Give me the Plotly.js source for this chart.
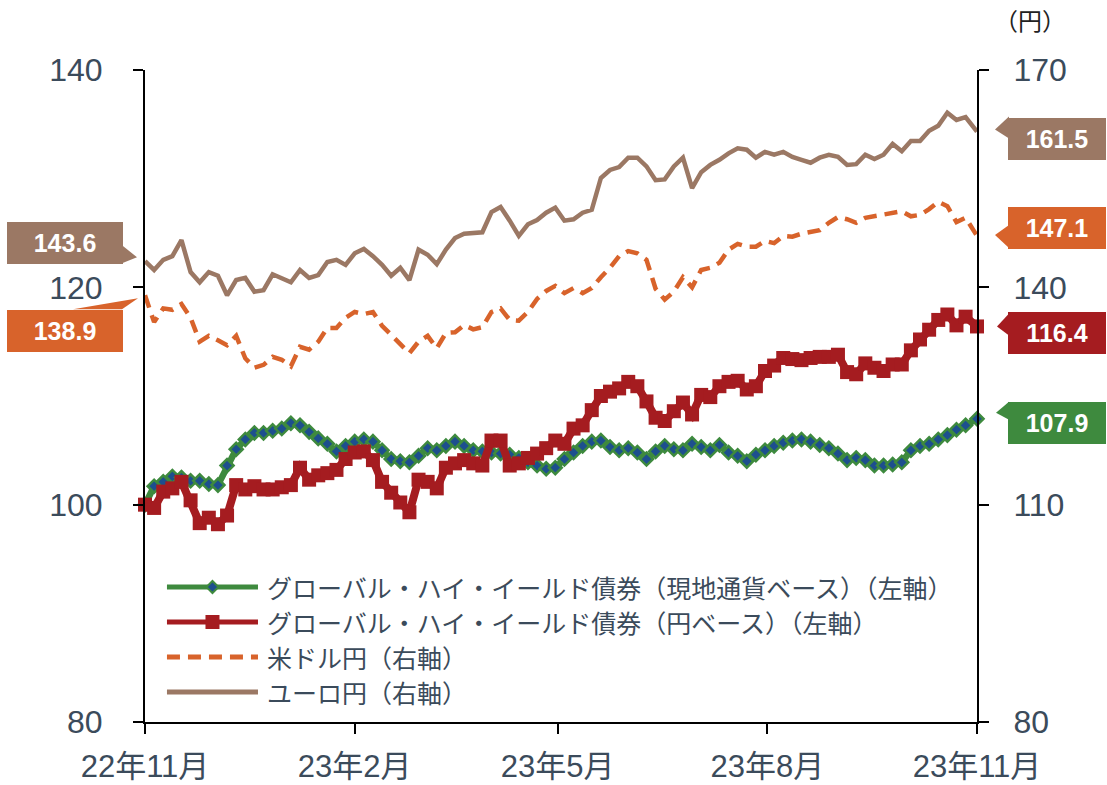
<!DOCTYPE html>
<html>
<head>
<meta charset="utf-8">
<script src="https://cdn.plot.ly/plotly-3.0.1.min.js"></script>
<style>
  html, body { margin: 0; padding: 0; background: #fff; }
  #chart { width: 1107px; height: 785px; }
</style>
</head>
<body>
<div id="chart"></div>
<script>
// ---- data ----
const dates = [
  '2022-11-01','2022-11-05','2022-11-09','2022-11-13','2022-11-17','2022-11-21','2022-11-25','2022-11-29',
  '2022-12-03','2022-12-07','2022-12-11','2022-12-15','2022-12-19','2022-12-23','2022-12-27','2022-12-31',
  '2023-01-04','2023-01-08','2023-01-12','2023-01-16','2023-01-20','2023-01-24','2023-01-28',
  '2023-02-01','2023-02-05','2023-02-09','2023-02-13','2023-02-17','2023-02-21','2023-02-25',
  '2023-03-01','2023-03-05','2023-03-09','2023-03-13','2023-03-17','2023-03-21','2023-03-25','2023-03-29',
  '2023-04-02','2023-04-06','2023-04-10','2023-04-14','2023-04-18','2023-04-22','2023-04-26','2023-04-30',
  '2023-05-04','2023-05-08','2023-05-12','2023-05-16','2023-05-20','2023-05-24','2023-05-28',
  '2023-06-01','2023-06-05','2023-06-09','2023-06-13','2023-06-17','2023-06-21','2023-06-25','2023-06-29',
  '2023-07-03','2023-07-07','2023-07-11','2023-07-15','2023-07-19','2023-07-23','2023-07-27','2023-07-31',
  '2023-08-04','2023-08-08','2023-08-12','2023-08-16','2023-08-20','2023-08-24','2023-08-28',
  '2023-09-01','2023-09-05','2023-09-09','2023-09-13','2023-09-17','2023-09-21','2023-09-25','2023-09-29',
  '2023-10-03','2023-10-07','2023-10-11','2023-10-15','2023-10-19','2023-10-23','2023-10-27',
  '2023-11-01'
];

// グローバル・ハイ・イールド債券（現地通貨ベース）（左軸）
const hyLocal = [
  100.0,101.7,102.1,102.6,102.5,102.2,102.2,101.9,
  101.8,103.6,105.1,106.0,106.6,106.6,106.8,107.0,
  107.5,107.3,106.7,106.1,105.6,104.9,105.4,
  105.8,106.0,105.8,105.0,104.2,104.0,103.9,
  104.5,105.2,105.0,105.4,105.8,105.4,105.0,104.9,
  104.8,104.7,104.6,104.3,103.9,103.6,103.3,103.4,
  104.2,104.8,105.4,105.8,105.9,105.3,105.0,
  105.2,104.8,104.2,104.9,105.4,105.1,105.0,105.6,
  105.3,105.0,105.5,104.8,104.5,104.0,104.6,105.0,
  105.4,105.7,105.9,106.0,105.8,105.5,105.2,
  104.7,104.1,104.3,104.1,103.6,103.6,103.7,103.9,
  105.0,105.4,105.6,106.0,106.4,106.9,107.3,
  107.9
];

// グローバル・ハイ・イールド債券（円ベース）（左軸）
const hyYen = [
  100.0,99.7,101.2,101.5,102.1,100.4,98.3,98.8,
  98.2,99.0,101.8,101.4,101.7,101.4,101.4,101.6,
  101.8,103.4,102.3,102.7,102.9,103.2,104.2,
  104.8,104.9,104.1,102.1,101.1,100.2,99.3,
  102.3,102.1,101.5,103.4,103.8,104.1,103.8,103.6,
  105.9,105.9,103.6,103.8,104.3,104.7,105.2,105.9,
  105.6,107.0,107.3,108.7,110.0,110.4,110.7,
  111.3,110.9,109.5,108.0,107.7,108.6,109.4,108.3,
  110.1,109.9,110.9,111.3,111.4,110.6,110.9,112.3,
  112.8,113.5,113.4,113.3,113.5,113.6,113.6,
  113.8,112.2,112.0,113.0,112.6,112.3,112.9,112.9,
  114.2,115.2,116.1,117.0,117.5,116.5,117.3,
  116.4
];

// 米ドル円（右軸）
const usdJpy = [
  138.9,135.2,137.1,136.9,137.7,135.8,132.5,133.3,
  132.7,132.0,133.3,130.2,128.9,129.3,130.4,130.0,
  129.1,131.8,131.4,132.5,134.4,134.4,135.8,
  136.6,136.3,136.6,134.7,133.4,132.2,130.9,
  132.5,133.3,131.6,133.7,133.8,134.8,134.2,134.5,
  136.6,137.1,135.5,135.4,136.6,138.4,139.5,140.2,
  139.2,139.9,139.2,139.9,141.4,142.7,144.3,
  145.0,144.7,143.8,139.8,138.3,139.4,141.4,140.0,
  142.4,142.7,143.4,145.2,146.0,145.6,145.6,146.4,
  146.1,147.1,147.0,147.4,147.6,147.9,148.9,
  149.7,149.4,148.9,149.6,149.8,150.0,150.3,150.5,
  149.8,150.0,150.8,151.8,151.2,149.0,149.6,
  147.1
];

// ユーロ円（右軸）
const eurJpy = [
  143.6,142.4,143.8,144.3,146.5,142.1,140.7,142.1,
  141.6,138.9,141.0,141.3,139.4,139.6,141.8,141.2,
  140.7,142.4,141.3,141.7,143.5,143.8,143.1,
  144.7,145.3,144.3,143.1,141.6,142.7,141.0,
  145.2,144.5,143.2,145.2,146.8,147.4,147.5,147.6,
  150.4,151.1,149.2,147.1,148.7,149.3,150.3,151.0,
  149.2,149.4,150.3,150.7,155.1,156.2,156.6,
  157.9,157.9,156.7,154.8,154.9,156.7,157.9,153.7,
  155.9,156.9,157.6,158.5,159.2,159.0,157.9,158.7,
  158.3,158.7,158.0,157.6,157.2,157.9,158.3,
  158.0,156.9,157.0,158.3,157.7,158.3,159.8,158.8,
  160.2,160.2,161.6,162.3,164.1,163.1,163.5,
  161.5
];

const seriesNames = [
  'グローバル・ハイ・イールド債券（現地通貨ベース）（左軸）',
  'グローバル・ハイ・イールド債券（円ベース）（左軸）',
  '米ドル円（右軸）',
  'ユーロ円（右軸）'
];

const xTickVals = ['2022-11-01','2023-02-01','2023-05-01','2023-08-01','2023-11-01'];
const xTickText = ['22年11月','23年2月','23年5月','23年8月','23年11月'];
const yLeftTicks = [80, 100, 120, 140];
const yRightTicks = [80, 110, 140, 170];

// ---- styles ----
const cGreen = '#3e8a3e', cBlue = '#1d4f8e', cRed = '#a51c20', cOrange = '#d8632b', cBrown = '#9b7864';
const tickColor = '#3b4b5b';
const baseFont = 'Arial, "Liberation Sans", "Noto Sans CJK JP", sans-serif';
const jpFont = '"Noto Sans CJK JP", "Noto Sans", sans-serif';

const traces = [
  { x: dates, y: hyLocal, type: 'scatter', mode: 'lines+markers', name: seriesNames[0], yaxis: 'y',
    line: { color: cGreen, width: 6.5 }, cliponaxis: false,
    marker: { symbol: 'diamond', size: 10, color: cBlue, line: { color: cGreen, width: 2.5 } } },
  { x: dates, y: hyYen, type: 'scatter', mode: 'lines+markers', name: seriesNames[1], yaxis: 'y',
    line: { color: cRed, width: 8 }, cliponaxis: false,
    marker: { symbol: 'square', size: 14, color: cRed } },
  { x: dates, y: usdJpy, type: 'scatter', mode: 'lines', name: seriesNames[2], yaxis: 'y2',
    line: { color: cOrange, width: 4.5, dash: '13px,8px' }, cliponaxis: false },
  { x: dates, y: eurJpy, type: 'scatter', mode: 'lines', name: seriesNames[3], yaxis: 'y2',
    line: { color: cBrown, width: 4.5 }, cliponaxis: false }
];

// ---- callout labels ----
const last = a => a[a.length - 1];
function callout(val, yref, side, color, yshift, tri) {
  const ann = {
    text: '<b>' + val.toFixed(1) + '</b>', xref: 'paper', yref: yref,
    x: side === 'right' ? 1 : 0, y: val,
    xanchor: side === 'right' ? 'left' : 'right', yanchor: 'middle',
    xshift: side === 'right' ? 31 : -22, yshift: yshift,
    showarrow: false, bgcolor: color, borderwidth: 0, borderpad: 0,
    width: side === 'right' ? 98 : 116, height: 42,
    font: { family: 'Arial, "Liberation Sans", sans-serif', size: 25, color: '#ffffff' }
  };
  const shp = {
    type: 'path', xref: 'paper', yref: yref, xsizemode: 'pixel', ysizemode: 'pixel',
    xanchor: side === 'right' ? 1 : 0, yanchor: val, path: tri,
    fillcolor: color, line: { width: 0 }, layer: 'above'
  };
  return [ann, shp];
}

const callouts = [
  callout(last(eurJpy), 'y2', 'right', cBrown, -7, 'M32,15 L18,2 L32,-7 Z'),
  callout(last(usdJpy), 'y2', 'right', cOrange, 8, 'M32,11 L18,1 L32,-12 Z'),
  callout(last(hyYen), 'y', 'right', cRed, -7, 'M32,13 L20,0 L32,-9 Z'),
  callout(last(hyLocal), 'y', 'right', cGreen, -4, 'M32,17 L19,6 L32,-1 Z'),
  callout(eurJpy[0], 'y2', 'left', cBrown, 18, 'M-23,16 L-8,4 L-23,-2 Z'),
  callout(usdJpy[0], 'y2', 'left', cOrange, -36, 'M-72,-14 L-7,-3 L-23,-14 Z')
];

const annotations = callouts.map(c => c[0]);
const shapes = callouts.map(c => c[1]);

// ---- custom legend ----
const legRows = [0.2071, 0.1534, 0.0997, 0.0460];
const legX0 = 0.0264, legX1 = 0.1358, legXm = 0.0811, legTextX = 0.1442;
const legStyles = [
  { color: cGreen, width: 5, dash: 'solid' },
  { color: cRed, width: 5, dash: 'solid' },
  { color: cOrange, width: 5, dash: '13px,8px' },
  { color: cBrown, width: 5, dash: 'solid' }
];
legRows.forEach((ry, i) => {
  shapes.push({ type: 'line', xref: 'paper', yref: 'paper', x0: legX0, x1: legX1, y0: ry, y1: ry,
    line: legStyles[i], layer: 'above' });
  annotations.push({ text: seriesNames[i], xref: 'paper', yref: 'paper', x: legTextX, y: ry,
    xanchor: 'left', yanchor: 'middle', showarrow: false,
    font: { family: jpFont, size: 25, color: tickColor } });
});
shapes.push({ type: 'path', xref: 'paper', yref: 'paper', xsizemode: 'pixel', ysizemode: 'pixel',
  xanchor: legXm, yanchor: legRows[0], path: 'M0,6 L6,0 L0,-6 L-6,0 Z',
  fillcolor: cBlue, line: { color: cGreen, width: 2 }, layer: 'above' });
shapes.push({ type: 'path', xref: 'paper', yref: 'paper', xsizemode: 'pixel', ysizemode: 'pixel',
  xanchor: legXm, yanchor: legRows[1], path: 'M-7,-7 L7,-7 L7,7 L-7,7 Z',
  fillcolor: cRed, line: { width: 0 }, layer: 'above' });

// unit label
annotations.push({ text: '（円）', xref: 'paper', yref: 'paper', x: 1.0637, y: 1.078,
  xanchor: 'center', yanchor: 'middle', showarrow: false,
  font: { family: jpFont, size: 24, color: '#222222' } });

const axisCommon = {
  showgrid: false, zeroline: false, showline: true, linecolor: '#000000', linewidth: 2,
  ticks: 'outside', ticklen: 10, tickwidth: 2, tickcolor: '#000000',
  tickfont: { family: baseFont, size: 32, color: tickColor }
};

const layout = {
  width: 1107, height: 785,
  margin: { l: 145, r: 130, t: 70, b: 63, pad: 0 },
  paper_bgcolor: '#ffffff', plot_bgcolor: '#ffffff',
  showlegend: false,
  font: { family: baseFont, color: tickColor },
  xaxis: Object.assign({}, axisCommon, {
    type: 'date', range: ['2022-11-01', '2023-11-01'],
    tickmode: 'array', tickvals: xTickVals, ticktext: xTickText,
    ticklabelstandoff: 6,
    tickfont: { family: baseFont, size: 31, color: tickColor }
  }),
  yaxis: Object.assign({}, axisCommon, {
    range: [80, 140], tickmode: 'array', tickvals: yLeftTicks, ticklabelstandoff: 24
  }),
  yaxis2: Object.assign({}, axisCommon, {
    range: [80, 170], tickmode: 'array', tickvals: yRightTicks,
    overlaying: 'y', side: 'right', ticklabelstandoff: 18
  }),
  annotations: annotations,
  shapes: shapes
};

Plotly.newPlot('chart', traces, layout, { staticPlot: true, displayModeBar: false });
</script>
</body>
</html>
